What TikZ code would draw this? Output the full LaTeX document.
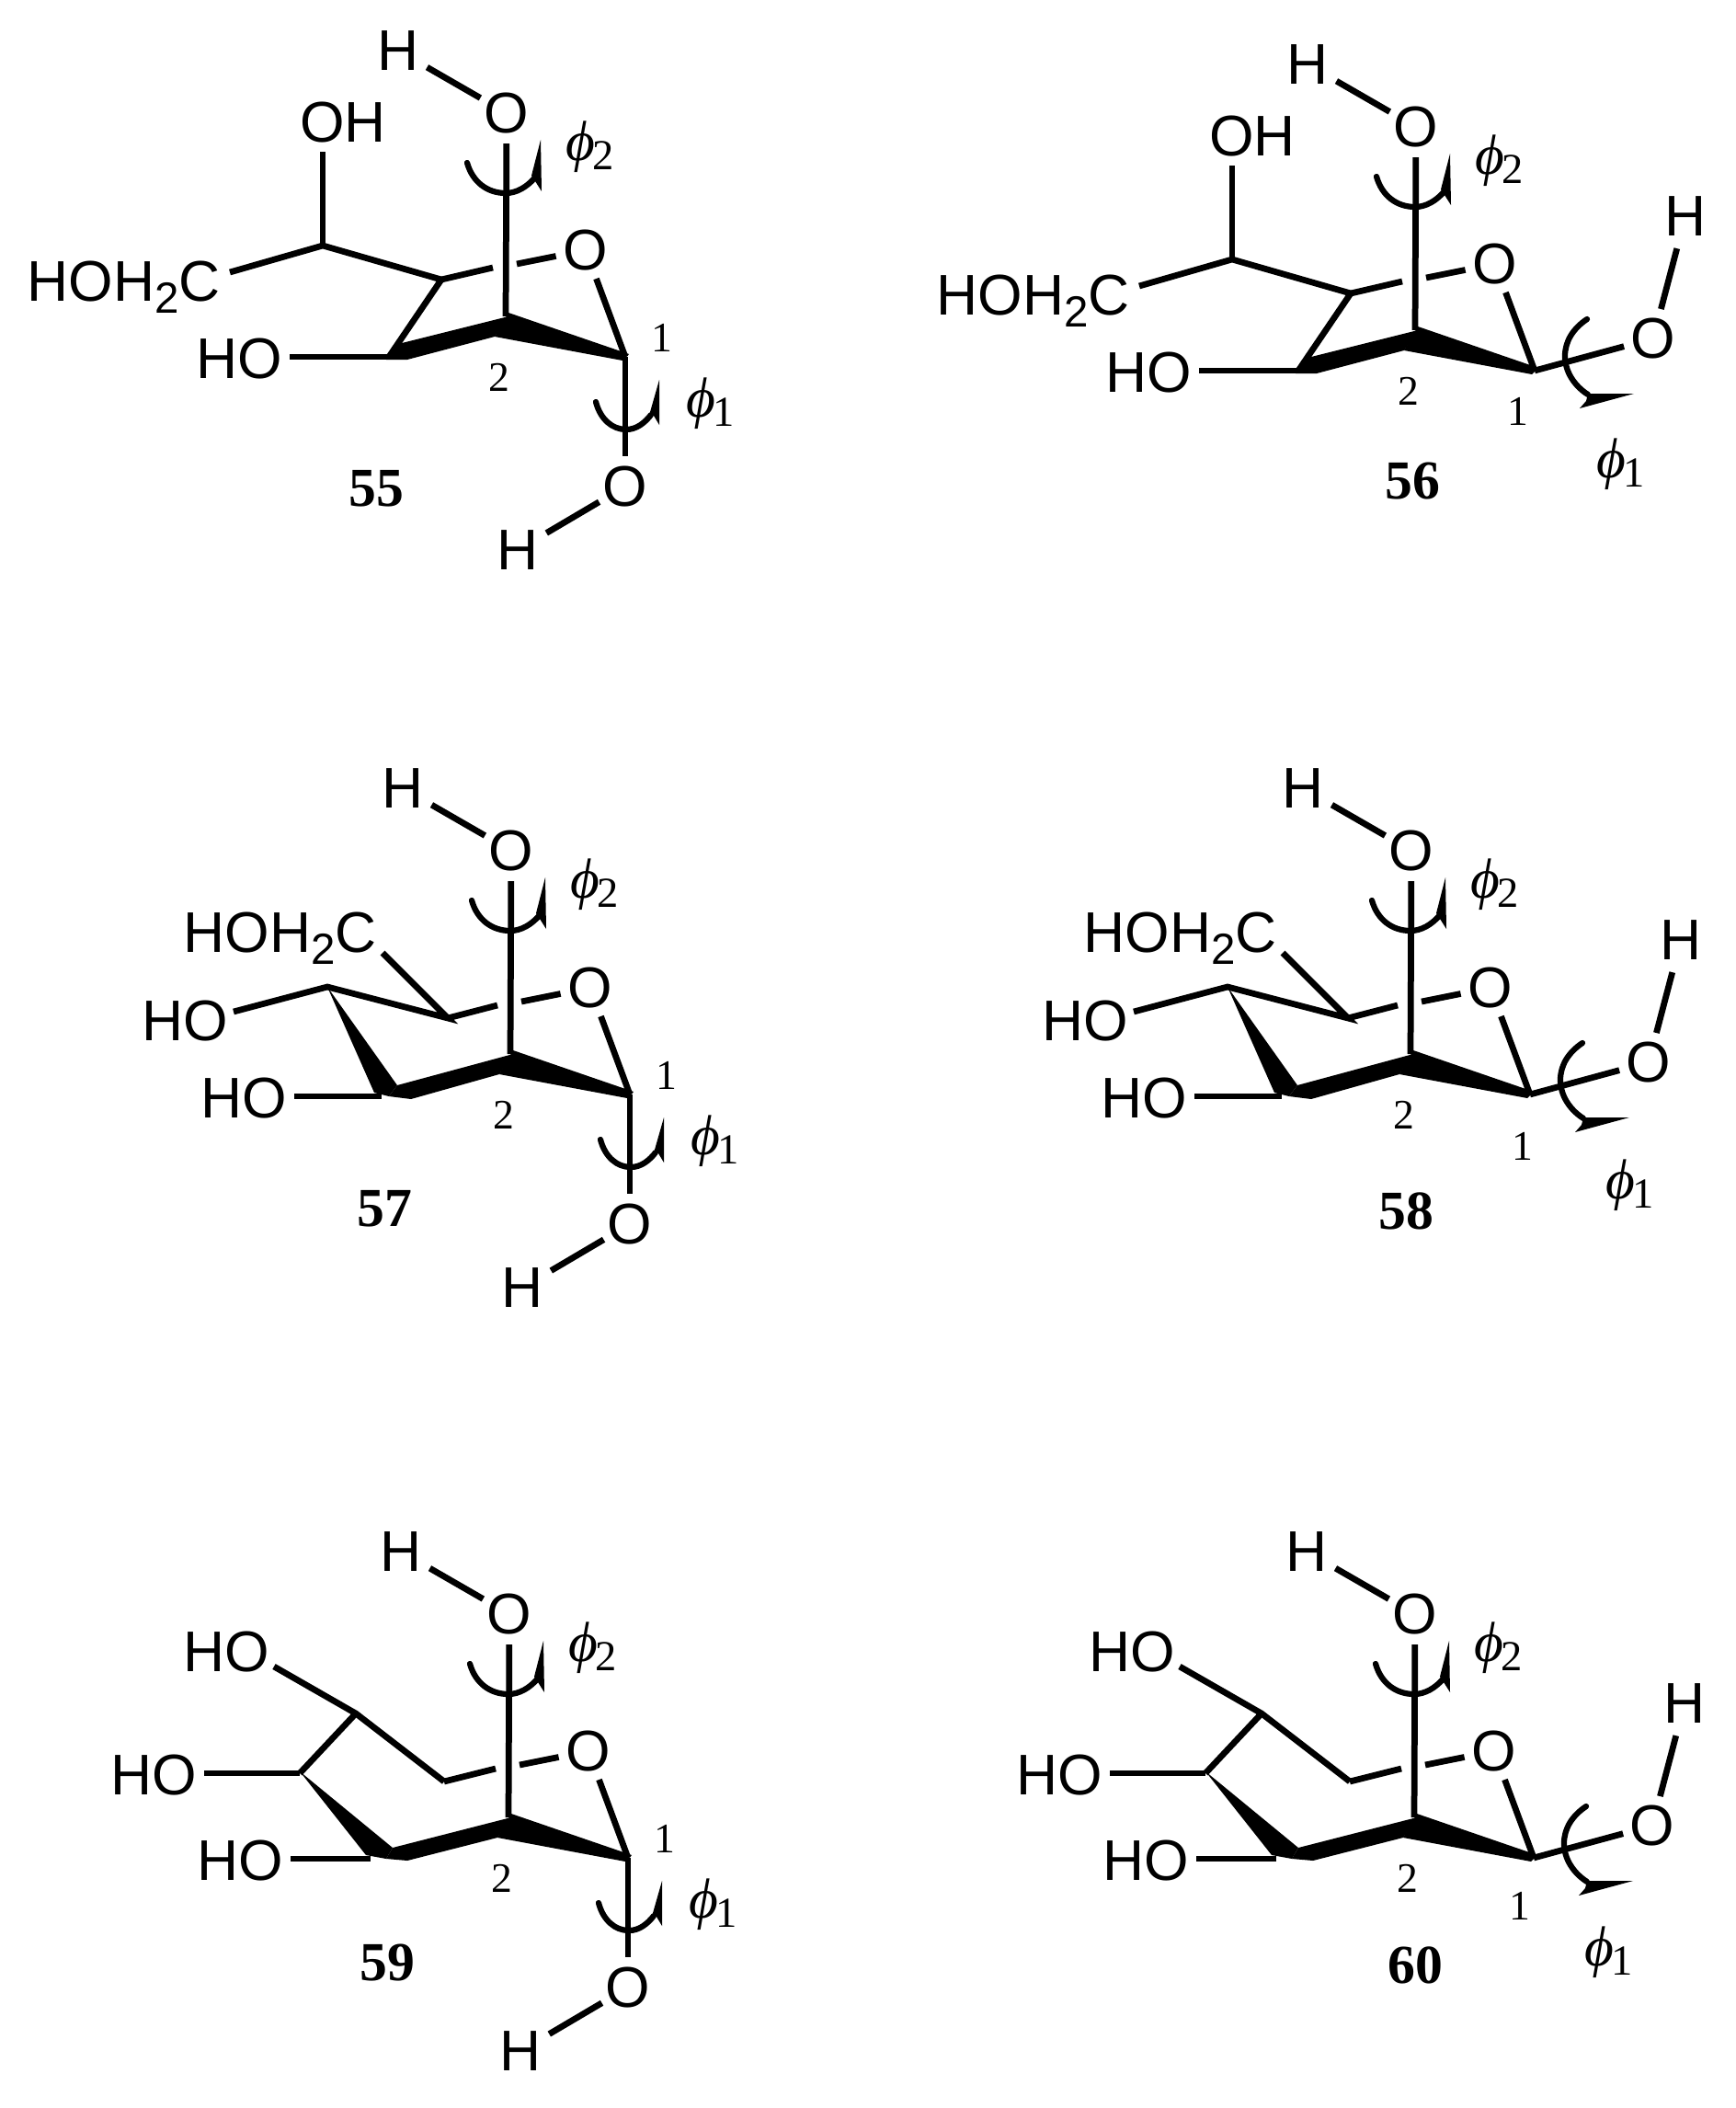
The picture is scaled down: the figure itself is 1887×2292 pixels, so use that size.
\documentclass[tikz,border=0pt]{standalone}
\usepackage{fontspec}
\setmainfont{Liberation Serif}
\setsansfont{Liberation Sans}
\newcommand{\atomfs}{\sffamily\fontsize{35.5}{36}\selectfont}
\newcommand{\subtwo}{\raisebox{-7.6pt}{\fontsize{27}{27}\selectfont 2}}
\newcommand{\phisym}[1]{{\rmfamily\fontsize{35}{36}\selectfont\itshape ϕ}\kern-1.5pt\raisebox{-5.7pt}{\rmfamily\fontsize{26.5}{27}\selectfont #1}}
\tikzset{
  bond/.style={line width=0.135cm,line cap=butt,line join=miter},
  rot/.style={line width=0.125cm,line cap=round},
  solidwedge/.style={fill=black,draw=none},
  atom/.style={circle,inner sep=0pt,minimum size=1.24cm,font=\atomfs},
  hatom/.style={circle,inner sep=0pt,minimum size=1.44cm,font=\atomfs},
  grp/.style={inner ysep=0pt,inner xsep=0.16cm,font=\atomfs},
  numlab/.style={inner sep=0pt,font=\rmfamily\fontsize{26}{26}\selectfont},
  philab/.style={inner sep=0pt},
  cpd/.style={inner sep=0pt,font=\rmfamily\bfseries\fontsize{34}{34}\selectfont}
}
% common pyranose part; #1 = position of rear ring carbon
\newcommand{\core}[1]{
  \coordinate (rear) at (#1);
  \coordinate (c2) at (550,344);
  \coordinate (c1) at (680,388);
  \coordinate (gapL) at (536,291);
  \coordinate (gapR) at (562,287);
  \node[atom] (topO) at (551,123) {O};
  \node[hatom] (topH) at (433,55) {H};
  \node[atom] (ringO) at (637,272) {O};
  \node[numlab] (lab2) at (543,410) {2};
  \node[philab] (phi2) at (642,160) {\phisym{2}};
  \draw[bond] (topO) -- (topH);
  \draw[bond] (topO) -- (c2);
  \draw[bond] (rear) -- (gapL);
  \draw[bond] (gapR) -- (ringO);
  \draw[bond] (ringO) -- (c1);
  \fill[solidwedge] (553,340) -- (538,366) -- (677,392) -- (684,385) -- cycle;
  \draw[rot] (508,177) .. controls (514,198) and (530,210) .. (550,210) .. controls (562,210) and (573,203) .. (581,194);
  \fill[solidwedge] (588,152) -- (578,191) -- (582,197) -- (589,208) -- cycle;
}
\newcommand{\taildown}{
  \node[atom] (lowO) at (680,529) {O};
  \node[hatom] (lowH) at (563,598) {H};
  \node[numlab] (lab1) at (720,367) {1};
  \node[philab] (phi1) at (773,439) {\phisym{1}};
  \draw[bond] (c1) -- (lowO);
  \draw[bond] (lowO) -- (lowH);
  \draw[rot] (648,437) .. controls (653,456) and (666,467) .. (681,467) .. controls (692,467) and (701,460) .. (708,451);
  \fill[solidwedge] (717,413) -- (707,448) -- (711,452) -- (717,462) -- cycle;
}
% #1 label 1 position, #2 phi position
\newcommand{\tailright}[2]{
  \node[atom] (rightO) at (809,353) {O};
  \node[hatom] (rightH) at (844,220) {H};
  \node[numlab] (lab1) at (#1) {1};
  \node[philab] (phi1) at (#2) {\phisym{1}};
  \draw[bond] (c1) -- (rightO);
  \draw[bond] (rightO) -- (rightH);
  \draw[rot] (737,332) .. controls (722,342) and (713,356) .. (713,372) .. controls (713,390) and (724,405) .. (738,414);
  \fill[solidwedge] (788,413) -- (738,413) -- (736,421) -- (729,429) -- cycle;
}
\newcommand{\leftA}{
  \coordinate (c3) at (423,388);
  \coordinate (ch) at (351,267);
  \coordinate (chup) at (351,165);
  \coordinate (chleft) at (250,296);
  \node[grp] (oh) at (373,133) {OH};
  \node[grp,anchor=base east,inner xsep=0pt] (hc) at (240,327) {HOH\subtwo C};
  \node[grp] (ho) at (260,390) {HO};
  \draw[bond] (chleft) -- (ch) -- (rear) -- (c3);
  \draw[bond] (ch) -- (chup);
  \draw[bond] (ho.east |- c3) -- (c3);
  \fill[solidwedge] (553,344) -- (538,366) -- (443,391) -- (420,391) -- (437,373) -- cycle;
}
\newcommand{\leftB}{
  \coordinate (apex) at (351,271);
  \coordinate (c3) at (410,390);
  \coordinate (hoend) at (249,298);
  \coordinate (chend) at (411,234);
  \node[grp,anchor=base east,inner xsep=0pt] (hc) at (405,233) {HOH\subtwo C};
  \node[grp] (hoa) at (196,308) {HO};
  \node[grp] (hob) at (260,392) {HO};
  \draw[bond] (hoend) -- (apex) -- (rear) -- (chend);
  \draw[bond] (hob.east |- c3) -- (c3);
  \fill[solidwedge] (351,271) -- (402,386) -- (418,390) -- (427,378) -- cycle;
  \fill[solidwedge] (553,344) -- (538,366) -- (442,393) -- (418,390) -- (427,378) -- cycle;
}
\newcommand{\leftC}{
  \coordinate (top) at (384,231);
  \coordinate (mid) at (323,296);
  \coordinate (hoend) at (295,180);
  \coordinate (c3) at (400,389);
  \node[grp] (hoa) at (243,164) {HO};
  \node[grp] (hob) at (164,298) {HO};
  \node[grp] (hoc) at (258,391) {HO};
  \draw[bond] (hoend) -- (top) -- (rear);
  \draw[bond] (top) -- (mid);
  \draw[bond] (hob.east |- mid) -- (mid);
  \draw[bond] (hoc.east |- c3) -- (c3);
  \fill[solidwedge] (323,294) -- (395,385) -- (417,389) -- (424,377) -- cycle;
  \fill[solidwedge] (553,344) -- (538,366) -- (440,391) -- (417,389) -- (424,377) -- cycle;
}
\begin{document}
\begin{tikzpicture}[x=0.02cm,y=-0.02cm]
\useasboundingbox (0,0) rectangle (1887,2292);
\fill[white] (0,0) rectangle (1887,2292);
\begin{scope}[name prefix=a-]
  \core{480,304}\taildown\leftA
\end{scope}
\begin{scope}[shift={(989,15)},name prefix=b-]
  \core{480,304}\tailright{662,432}{774,490}\leftA
\end{scope}
\begin{scope}[shift={(5,802)},name prefix=c-]
  \core{482,305}\taildown\leftB
\end{scope}
\begin{scope}[shift={(984,802)},name prefix=d-]
  \core{482,305}\tailright{672,444}{789,487}\leftB
\end{scope}
\begin{scope}[shift={(3,1632)},name prefix=e-]
  \core{480,305}\taildown\leftC
\end{scope}
\begin{scope}[shift={(988,1632)},name prefix=f-]
  \core{480,305}\tailright{665,440}{762,491}\leftC
\end{scope}
\node[cpd] (n55) at (409,531) {55};
\node[cpd] (n56) at (1536,523) {56};
\node[cpd] (n57) at (418,1314) {57};
\node[cpd] (n58) at (1529,1317) {58};
\node[cpd] (n59) at (421,2134) {59};
\node[cpd] (n60) at (1539,2137) {60};
\end{tikzpicture}
\end{document}
